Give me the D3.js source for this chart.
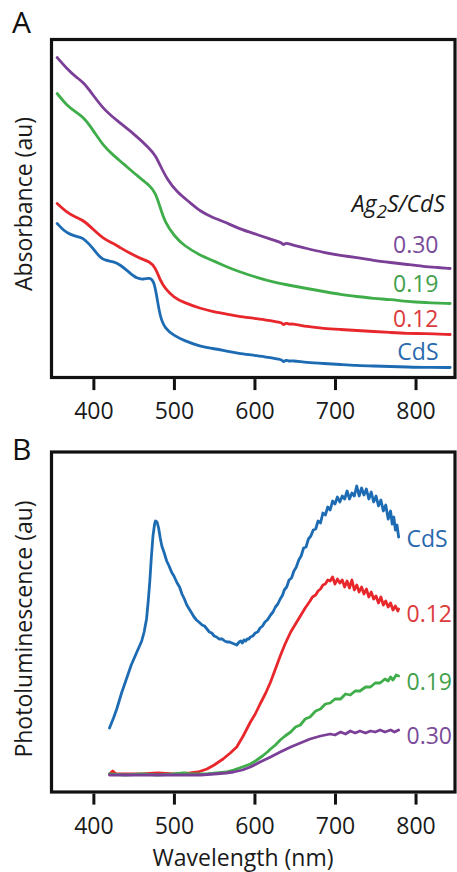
<!DOCTYPE html>
<html><head><meta charset="utf-8">
<script src="https://cdn.jsdelivr.net/npm/d3@7/dist/d3.min.js"></script>
<style>
html,body{margin:0;padding:0;background:#fff;}
svg{display:block;}
text{font-family:"Open Sans",sans-serif;}
</style></head>
<body>
<svg id="c" width="457" height="872"></svg>
<script>
// ---------- DATA ----------
const xTicks = [400, 500, 600, 700, 800];
const seriesNames = ["CdS", "0.12", "0.19", "0.30"];
const legendTitleA = ["Ag", "2", "S/CdS"];

// Panel A: absorbance (au) — [wavelength nm, value]
const absCdS = [[355,1.54],[363,1.47],[371,1.43],[384,1.40],[388,1.39],[400,1.29],[408,1.20],[415,1.17],[425,1.16],[433,1.13],[446,1.04],[454,0.99],[462,0.98],[470,1.00],[475,0.97],[479,0.80],[483,0.60],[489,0.49],[500,0.42],[512,0.37],[533,0.31],[548,0.29],[562,0.27],[580,0.24],[603,0.22],[625,0.19],[634,0.18],[636,0.15],[639,0.18],[643,0.16],[646,0.17],[665,0.15],[686,0.14],[707,0.13],[727,0.12],[748,0.115],[769,0.11],[790,0.105],[810,0.10],[843,0.10]];
const abs012 = [[355,1.74],[367,1.65],[379,1.60],[388,1.57],[400,1.48],[412,1.39],[425,1.34],[433,1.30],[446,1.24],[458,1.19],[470,1.16],[477,1.10],[483,0.97],[489,0.89],[500,0.80],[512,0.75],[533,0.69],[548,0.66],[562,0.64],[580,0.61],[603,0.59],[625,0.56],[634,0.55],[636,0.52],[639,0.55],[643,0.53],[646,0.54],[665,0.51],[686,0.49],[707,0.48],[727,0.47],[748,0.46],[769,0.45],[790,0.44],[810,0.44],[843,0.43]];
const abs019 = [[355,2.84],[367,2.72],[379,2.65],[388,2.60],[400,2.47],[412,2.32],[425,2.22],[437,2.14],[454,2.02],[470,1.92],[477,1.85],[483,1.70],[489,1.55],[500,1.42],[512,1.32],[533,1.22],[548,1.17],[562,1.12],[580,1.06],[603,1.00],[625,0.95],[645,0.92],[665,0.89],[686,0.86],[707,0.83],[727,0.81],[748,0.79],[769,0.78],[790,0.76],[810,0.75],[843,0.74]];
const abs030 = [[355,3.20],[367,3.09],[379,3.00],[388,2.95],[400,2.82],[412,2.69],[429,2.57],[450,2.44],[470,2.29],[477,2.22],[483,2.12],[491,1.99],[504,1.85],[520,1.75],[533,1.66],[548,1.60],[562,1.56],[580,1.49],[603,1.43],[625,1.37],[634,1.35],[636,1.32],[639,1.35],[645,1.33],[665,1.29],[686,1.25],[707,1.22],[727,1.20],[748,1.17],[769,1.15],[790,1.13],[810,1.11],[827,1.10],[843,1.09]];

// Panel B: photoluminescence (au)
const plCdS = [[420,0.64],[425,0.74],[429,0.83],[435,0.99],[441,1.13],[447,1.27],[454,1.40],[460,1.51],[463,1.60],[466,1.73],[468,1.90],[470,2.10],[472,2.35],[474,2.56],[476,2.68],[477,2.71],[479,2.70],[481,2.64],[483,2.54],[485,2.46],[488,2.39],[491,2.31],[494,2.26],[497,2.20],[500,2.16],[504,2.09],[507,2.05],[510,1.98],[513,1.93],[516,1.87],[519,1.83],[522,1.79],[525,1.75],[528,1.72],[531,1.70],[535,1.67],[538,1.66],[541,1.63],[544,1.60],[547,1.59],[550,1.56],[553,1.55],[556,1.53],[560,1.53],[563,1.51],[566,1.50],[569,1.50],[572,1.49],[575,1.48],[578,1.47],[581,1.50],[583,1.51],[585,1.49],[587,1.52],[589,1.51],[591,1.53],[593,1.53],[595,1.55],[598,1.56],[601,1.59],[604,1.60],[607,1.64],[610,1.66],[613,1.70],[616,1.72],[620,1.77],[623,1.80],[626,1.85],[629,1.88],[632,1.93],[635,1.97],[637,2.02],[640,2.05],[643,2.12],[646,2.14],[649,2.21],[652,2.25],[655,2.32],[658,2.36],[661,2.44],[664,2.45],[667,2.53],[670,2.56],[673,2.62],[676,2.63],[679,2.71],[682,2.69],[685,2.79],[688,2.77],[691,2.85],[694,2.82],[697,2.91],[700,2.88],[703,2.95],[706,2.90],[709,2.96],[712,2.93],[715,3.01],[718,2.93],[721,2.99],[724,2.96],[727,3.06],[730,2.96],[733,3.04],[736,2.97],[739,3.03],[742,2.93],[745,3.00],[748,2.90],[751,2.96],[754,2.86],[757,2.92],[760,2.81],[763,2.87],[766,2.73],[769,2.81],[771,2.68],[773,2.75],[775,2.62],[777,2.67],[779,2.55]];
const pl012 = [[420,0.18],[424,0.21],[428,0.18],[440,0.18],[460,0.18],[480,0.19],[500,0.18],[520,0.19],[530,0.20],[541,0.23],[550,0.27],[561,0.33],[570,0.39],[578,0.45],[586,0.56],[595,0.70],[601,0.78],[607,0.88],[614,0.99],[620,1.10],[626,1.23],[632,1.36],[638,1.48],[645,1.60],[651,1.68],[657,1.76],[663,1.84],[669,1.91],[672,1.95],[676,1.97],[679,2.01],[682,2.03],[685,2.07],[688,2.08],[691,2.12],[694,2.11],[697,2.15],[700,2.08],[703,2.13],[706,2.09],[709,2.12],[712,2.05],[715,2.11],[718,2.04],[721,2.12],[724,2.02],[727,2.07],[730,2.00],[733,2.05],[736,1.98],[739,2.03],[742,1.95],[745,2.00],[748,1.93],[751,1.96],[754,1.89],[757,1.95],[760,1.87],[763,1.91],[766,1.85],[769,1.89],[772,1.82],[775,1.86],[778,1.81],[779,1.83]];
const pl019 = [[420,0.18],[440,0.17],[460,0.18],[480,0.17],[500,0.18],[512,0.19],[520,0.18],[540,0.18],[553,0.19],[565,0.20],[574,0.22],[585,0.25],[595,0.28],[603,0.32],[610,0.36],[616,0.40],[620,0.43],[626,0.47],[632,0.52],[638,0.56],[645,0.60],[651,0.65],[657,0.67],[663,0.73],[669,0.75],[676,0.81],[682,0.83],[688,0.88],[694,0.89],[700,0.93],[707,0.93],[713,0.98],[719,0.97],[725,1.01],[731,1.01],[738,1.05],[744,1.05],[750,1.09],[756,1.09],[762,1.13],[766,1.11],[769,1.15],[772,1.12],[776,1.17],[779,1.16]];
const pl030 = [[420,0.17],[440,0.17],[460,0.17],[480,0.17],[500,0.17],[520,0.17],[533,0.17],[550,0.18],[565,0.19],[574,0.20],[585,0.22],[595,0.25],[607,0.30],[620,0.35],[632,0.40],[645,0.45],[657,0.49],[669,0.53],[682,0.56],[694,0.58],[700,0.57],[707,0.60],[713,0.58],[719,0.61],[725,0.59],[731,0.61],[738,0.59],[744,0.61],[750,0.60],[756,0.62],[762,0.60],[769,0.62],[774,0.60],[779,0.62]];

const colors = ["#1d6bb3", "#e8272c", "#3fae4a", "#7b3f98"];
const labelColors = ["#2a69ad", "#dc3a3c", "#42a04c", "#7a4b9a"];

// ---------- CHART ----------
const svg = d3.select("#c");
const fs = 23;

function panel(cfg) {
  const x = d3.scaleLinear().domain([348, 849]).range([cfg.left, cfg.right]);
  const y = d3.scaleLinear().domain(cfg.ydom).range([cfg.bottom, cfg.top]);
  const g = svg.append("g");
  const line = d3.line().x(d => x(d[0])).y(d => y(d[1])).curve(cfg.curve);
  cfg.series.forEach((s, i) => {
    g.append("path").attr("d", line(s)).attr("fill", "none")
      .attr("stroke", colors[i]).attr("stroke-width", 2.8)
      .attr("stroke-linejoin", "round").attr("stroke-linecap", "round");
  });
  // frame
  g.append("rect").attr("x", cfg.left).attr("y", cfg.top)
    .attr("width", cfg.right - cfg.left).attr("height", cfg.bottom - cfg.top)
    .attr("fill", "none").attr("stroke", "#111").attr("stroke-width", 3.2);
  // axis
  const ax = g.append("g").attr("transform", `translate(0,${cfg.bottom + 1.6})`)
    .call(d3.axisBottom(x).tickValues(xTicks).tickSize(11).tickPadding(13).tickFormat(d3.format("d")));
  ax.select(".domain").remove();
  ax.selectAll(".tick line").attr("stroke", "#111").attr("stroke-width", 3);
  ax.selectAll(".tick text").attr("font-size", fs).attr("fill", "#1a1a1a")
    .style("font-family", '"Open Sans",sans-serif');
  // y label
  g.append("text").attr("transform", `translate(${cfg.ylx},${cfg.yly}) rotate(-90)`)
    .attr("text-anchor", "middle").attr("dominant-baseline", "central")
    .attr("font-size", fs).attr("fill", "#1a1a1a").text(cfg.ylabel);
  // panel letter
  g.append("text").attr("x", 12).attr("y", cfg.letterY).attr("font-size", 30)
    .attr("fill", "#111").text(cfg.letter);
  return {g, x, y};
}

const A = panel({left: 51.5, right: 455, top: 39.5, bottom: 377.5, ydom: [0, 3.38],
  series: [absCdS, abs012, abs019, abs030], ylabel: "Absorbance (au)", ylx: 23, yly: 204,
  letter: "A", letterY: 33, curve: d3.curveBasis});
const B = panel({left: 51.5, right: 455, top: 452, bottom: 792, ydom: [0, 3.40],
  series: [plCdS, pl012, pl019, pl030], ylabel: "Photoluminescence (au)", ylx: 23, yly: 629,
  letter: "B", letterY: 460, curve: d3.curveLinear});

// legend A
const t = A.g.append("text").attr("x", 445).attr("y", 212).attr("text-anchor", "end")
  .attr("font-size", fs).attr("font-style", "italic").attr("fill", "#1a1a1a");
t.append("tspan").text(legendTitleA[0]);
t.append("tspan").attr("dy", 6).attr("font-size", 19).text(legendTitleA[1]);
t.append("tspan").attr("dy", -6).text(legendTitleA[2]);
const aLabY = [360, 326.5, 291.5, 253];
seriesNames.forEach((n, i) => {
  A.g.append("text").attr("x", 438.5).attr("y", aLabY[i]).attr("text-anchor", "end")
    .attr("font-size", fs).attr("fill", labelColors[i]).text(n);
});
// labels B
const bLabY = [546.5, 621.5, 690, 743.5];
seriesNames.forEach((n, i) => {
  B.g.append("text").attr("x", 406.5).attr("y", bLabY[i]).attr("text-anchor", "start")
    .attr("font-size", fs).attr("fill", labelColors[i]).text(n);
});
// x title
svg.append("text").attr("x", 243).attr("y", 866).attr("text-anchor", "middle")
  .attr("font-size", fs).attr("fill", "#1a1a1a").text("Wavelength (nm)");
</script>
</body></html>
